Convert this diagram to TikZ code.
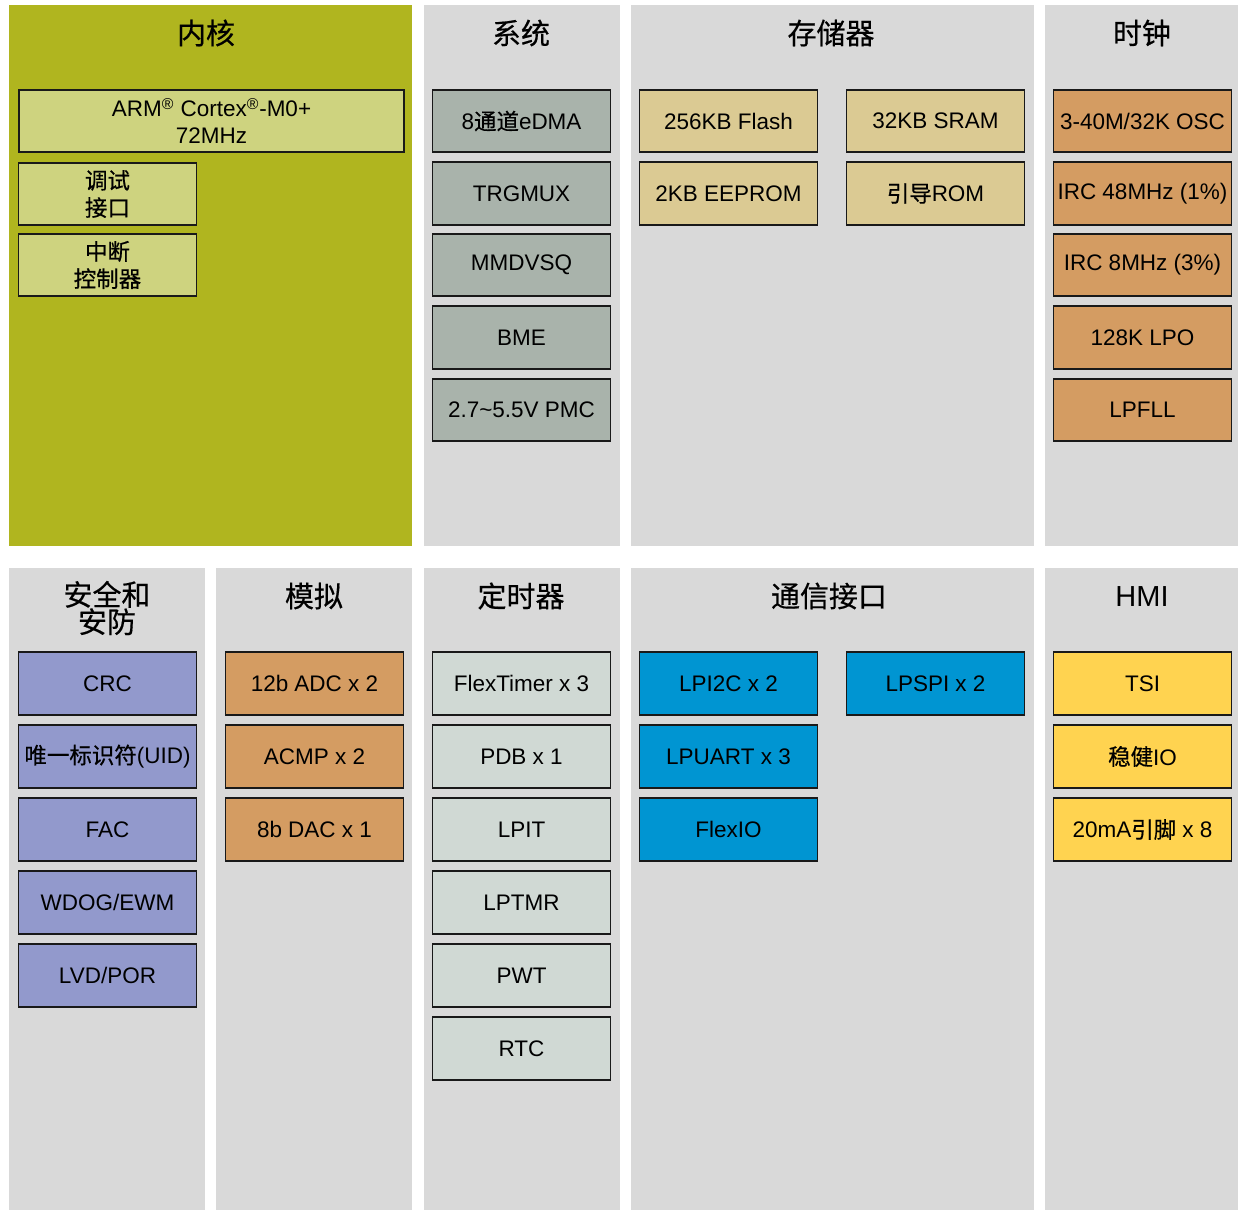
\documentclass[tikz,border=0pt]{standalone}
\usepackage{fontspec}
\setmainfont{Liberation Sans}
\newfontfamily\cjk[FakeBold=0.5]{Noto Sans CJK SC}
\usepackage{tikz}
\definecolor{coreolive}{HTML}{B0B51F}
\definecolor{corebox}{HTML}{CED37F}
\definecolor{panelgray}{HTML}{D9D9D9}
\definecolor{sysbox}{HTML}{A9B3AB}
\definecolor{membox}{HTML}{DBCA93}
\definecolor{clkbox}{HTML}{D49C62}
\definecolor{secbox}{HTML}{9299CC}
\definecolor{timbox}{HTML}{D0D9D4}
\definecolor{combox}{HTML}{0095D2}
\definecolor{hmibox}{HTML}{FFD350}

\begin{document}
\begin{tikzpicture}[x=0.02cm, y=-0.02cm]
    \tikzstyle{Title}=[font=\fontsize{16.5}{15.5}\selectfont, align=center, inner sep=0pt]
    \tikzstyle{Block}=[draw=black!90, line width=1pt, minimum width=3.56cm,
                       minimum height=1.25cm, inner sep=0pt, align=center,
                       font=\fontsize{12.8}{15.5}\selectfont]
    \useasboundingbox (0,0) rectangle (1238,1210);
    % panels
    \fill[coreolive] (9,5) rectangle (412,546);
    \fill[panelgray] (424,5) rectangle (620,546);
    \fill[panelgray] (631,5) rectangle (1034,546);
    \fill[panelgray] (1045,5) rectangle (1238,546);
    \fill[panelgray] (9,568) rectangle (205,1210);
    \fill[panelgray] (216,568) rectangle (412,1210);
    \fill[panelgray] (424,568) rectangle (620,1210);
    \fill[panelgray] (631,568) rectangle (1034,1210);
    \fill[panelgray] (1045,568) rectangle (1238,1210);
    % titles
    \node[Title] (tcore) at (206,33) {\cjk 内核};
    \node[Title] (tsys)  at (521,33) {\cjk 系统};
    \node[Title] (tmem)  at (831,33) {\cjk 存储器};
    \node[Title] (tclk)  at (1142,33) {\cjk 时钟};
    \node[Title] (tsec)  at (107,608) {\cjk 安全和\\\cjk 安防};
    \node[Title] (tana)  at (314,596) {\cjk 模拟};
    \node[Title] (ttim)  at (521,596) {\cjk 定时器};
    \node[Title] (tcom)  at (829,596) {\cjk 通信接口};
    \node[Title] (thmi)  at (1142,597) {HMI};
    % core
    \node[Block, fill=corebox, minimum width=7.7cm] (cpu) at (211.5,121)
        {ARM\textsuperscript{\textregistered} Cortex\textsuperscript{\textregistered}-M0+\\72MHz};
    \node[Block, fill=corebox] (dbg)  at (107.5,194) {\cjk 调试\\\cjk 接口};
    \node[Block, fill=corebox] (nvic) at (107.5,265) {\cjk 中断\\\cjk 控制器};
    % system
    \node[Block, fill=sysbox] (edma)   at (521.5,121)   {8{\cjk 通道}eDMA};
    \node[Block, fill=sysbox] (trgmux) at (521.5,193.5) {TRGMUX};
    \node[Block, fill=sysbox] (mmdvsq) at (521.5,265)   {MMDVSQ};
    \node[Block, fill=sysbox] (bme)    at (521.5,337.5) {BME};
    \node[Block, fill=sysbox] (pmc)    at (521.5,410)   {2.7\textasciitilde5.5V PMC};
    % memory
    \node[Block, fill=membox] (flash)  at (728.5,121)   {256KB Flash};
    \node[Block, fill=membox] (sram)   at (935.5,121)   {32KB SRAM};
    \node[Block, fill=membox] (eeprom) at (728.5,193.5) {2KB EEPROM};
    \node[Block, fill=membox] (brom)   at (935.5,193.5) {{\cjk 引导}ROM};
    % clocks
    \node[Block, fill=clkbox] (osc)   at (1142.5,121)   {3-40M/32K OSC};
    \node[Block, fill=clkbox] (irch)  at (1142.5,193.5) {IRC 48MHz (1\%)};
    \node[Block, fill=clkbox] (ircl)  at (1142.5,265)   {IRC 8MHz (3\%)};
    \node[Block, fill=clkbox] (lpo)   at (1142.5,337.5) {128K LPO};
    \node[Block, fill=clkbox] (lpfll) at (1142.5,410)   {LPFLL};
    % security
    \node[Block, fill=secbox] (crc)  at (107.5,683.5) {CRC};
    \node[Block, fill=secbox] (uid)  at (107.5,756.5) {{\cjk 唯一标识符}(UID)};
    \node[Block, fill=secbox] (fac)  at (107.5,829.5) {FAC};
    \node[Block, fill=secbox] (wdog) at (107.5,902.5) {WDOG/EWM};
    \node[Block, fill=secbox] (lvd)  at (107.5,975.5) {LVD/POR};
    % analog
    \node[Block, fill=clkbox] (adc)  at (314.5,683.5) {12b ADC x 2};
    \node[Block, fill=clkbox] (acmp) at (314.5,756.5) {ACMP x 2};
    \node[Block, fill=clkbox] (dac)  at (314.5,829.5) {8b DAC x 1};
    % timers
    \node[Block, fill=timbox] (ftm)   at (521.5,683.5)  {FlexTimer x 3};
    \node[Block, fill=timbox] (pdb)   at (521.5,756.5)  {PDB x 1};
    \node[Block, fill=timbox] (lpit)  at (521.5,829.5)  {LPIT};
    \node[Block, fill=timbox] (lptmr) at (521.5,902.5)  {LPTMR};
    \node[Block, fill=timbox] (pwt)   at (521.5,975.5)  {PWT};
    \node[Block, fill=timbox] (rtc)   at (521.5,1048.5) {RTC};
    % communication
    \node[Block, fill=combox] (lpiic)  at (728.5,683.5) {LPI2C x 2};
    \node[Block, fill=combox] (lpspi)  at (935.5,683.5) {LPSPI x 2};
    \node[Block, fill=combox] (lpuart) at (728.5,756.5) {LPUART x 3};
    \node[Block, fill=combox] (flexio) at (728.5,829.5) {FlexIO};
    % HMI
    \node[Block, fill=hmibox] (tsi)  at (1142.5,683.5) {TSI};
    \node[Block, fill=hmibox] (rio)  at (1142.5,756.5) {{\cjk 稳健}IO};
    \node[Block, fill=hmibox] (pins) at (1142.5,829.5) {20mA{\cjk 引脚} x 8};
\end{tikzpicture}
\end{document}
